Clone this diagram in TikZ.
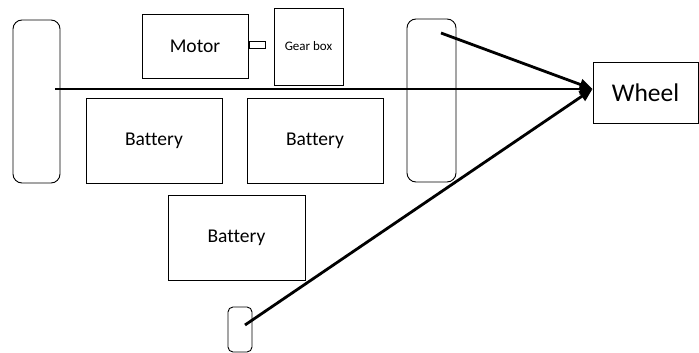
\documentclass[tikz,border=0pt]{standalone}
\usepackage{fontspec}
\setmainfont{Carlito}[Ligatures=NoCommon]
\usetikzlibrary{arrows.meta}

\begin{document}
\begin{tikzpicture}[x=1pt,y=-1pt,>={Triangle[length=13pt,width=11pt]},every node/.style={font=\fontsize{19.5}{22}\selectfont},part/.style={draw,line width=0.9pt,inner sep=0pt},tyre/.style={draw,line width=0.9pt,rounded corners=9pt,inner sep=0pt},link/.style={->,line width=2.8pt}]
\useasboundingbox (0,0) rectangle (699,353);
\node[tyre,minimum width=47pt,minimum height=163pt] (lwheel) at (36.5,101.5) {};
\node[tyre,minimum width=49pt,minimum height=163pt] (rwheel) at (431.5,100.5) {};
\node[tyre,rounded corners=5pt,minimum width=24pt,minimum height=45pt] (swheel) at (240,329.5) {};
\node[part,minimum width=106pt,minimum height=64pt] (motor) at (195,46) {Motor};
\node[part,minimum width=16pt,minimum height=7pt] (coupler) at (257,44.5) {};
\node[part,minimum width=69pt,minimum height=77pt,font=\fontsize{13}{15}\selectfont] (gearbox) at (308.5,46.5) {Gear box};
\node[part,minimum width=136pt,minimum height=85pt] (batt1) at (154,140.5) {Battery};
\node[part,minimum width=136pt,minimum height=85pt] (batt2) at (315,140.5) {Battery};
\node[part,minimum width=137pt,minimum height=85pt] (batt3) at (236.5,237.5) {Battery};
\node[part,minimum width=105pt,minimum height=61pt,font=\fontsize{25.5}{28}\selectfont] (wheelbox) at (645.5,92.5) {Wheel};
\coordinate (axle) at (55,89);
\coordinate (rhub) at (441,33);
\coordinate (shub) at (245,325);
\draw[link,line width=2.4pt] (axle) -- (axle -| wheelbox.west);
\draw[link] (rhub) -- (axle -| wheelbox.west);
\draw[link] (shub) -- (axle -| wheelbox.west);
\end{tikzpicture}
\end{document}
